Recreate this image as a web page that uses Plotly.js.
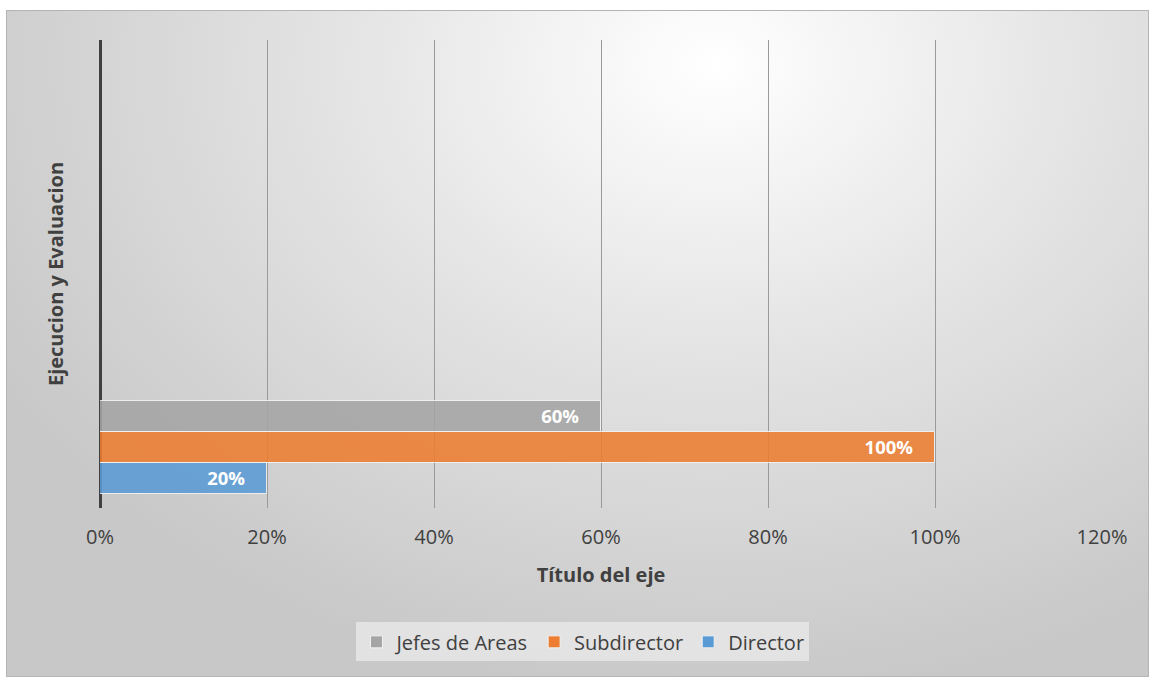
<!DOCTYPE html>
<html>
<head>
<meta charset="utf-8">
<script src="https://cdn.plot.ly/plotly-3.0.1.min.js"></script>
<style>
  body { margin: 0; background: #ffffff; }
  #chart {
    position: absolute; left: 6px; top: 10px;
    width: 1141px; height: 665px;
    border: 1px solid #b4b4b4;
    background: radial-gradient(ellipse 72% 95% at 62% 8%, #ffffff 0%, #e4e4e4 45%, #c8c8c8 100%);
  }
</style>
</head>
<body>
<div id="chart"></div>
<script>
var categories = ['Ejecucion y Evaluacion'];
var director = [0.20];
var subdirector = [1.00];
var jefes = [0.60];

function serie(name, values, color) {
  return {
    type: 'bar',
    orientation: 'h',
    name: name,
    y: categories,
    x: values,
    marker: {color: color, opacity: 0.88, line: {color: '#f2f2f2', width: 1}},
    texttemplate: '%{x:.0%}\u2003',
    textposition: 'inside',
    insidetextanchor: 'end',
    textfont: {family: 'Open Sans', size: 20, color: '#ffffff', weight: 'bold'},
    hoverinfo: 'name+x'
  };
}

var data = [
  serie('Director', director, '#5b9bd5'),
  serie('Subdirector', subdirector, '#ed7d31'),
  serie('Jefes de Areas', jefes, '#a5a5a5')
];

var layout = {
  width: 1141,
  height: 665,
  margin: {l: 93, r: 46, t: 29, b: 168},
  paper_bgcolor: 'rgba(0,0,0,0)',
  plot_bgcolor: 'rgba(0,0,0,0)',
  font: {family: 'Open Sans', size: 20, color: '#404040'},
  barmode: 'group',
  bargap: 0,
  bargroupgap: 0,
  xaxis: {
    range: [0, 1.2],
    dtick: 0.2,
    tickformat: '.0%',
    showgrid: true,
    gridcolor: '#9a9a9a',
    gridwidth: 1,
    zeroline: true,
    zerolinecolor: '#404040',
    zerolinewidth: 3,
    ticks: 'outside',
    ticklen: 11,
    tickcolor: 'rgba(0,0,0,0)',
    tickfont: {size: 20, color: '#404040'},
    automargin: false,
    title: {text: 'Título del eje', font: {size: 20, color: '#404040', weight: 'bold'}, standoff: 18}
  },
  yaxis: {
    type: 'category',
    range: [-0.65, 4.38],
    showticklabels: false,
    showgrid: false,
    zeroline: false,
    showline: false,
    ticks: '',
    automargin: false,
    title: {text: 'Ejecucion y Evaluacion', font: {size: 20, color: '#404040', weight: 'bold'}, standoff: 30}
  },
  showlegend: true,
  legend: {
    orientation: 'h',
    traceorder: 'reversed',
    x: 0.482,
    xanchor: 'center',
    y: -0.286,
    yanchor: 'middle',
    bgcolor: 'rgba(236,236,236,0.7)',
    font: {size: 20, color: '#404040'},
    itemwidth: 30
  }
};

Plotly.newPlot('chart', data, layout, {displayModeBar: false});
</script>
</body>
</html>
